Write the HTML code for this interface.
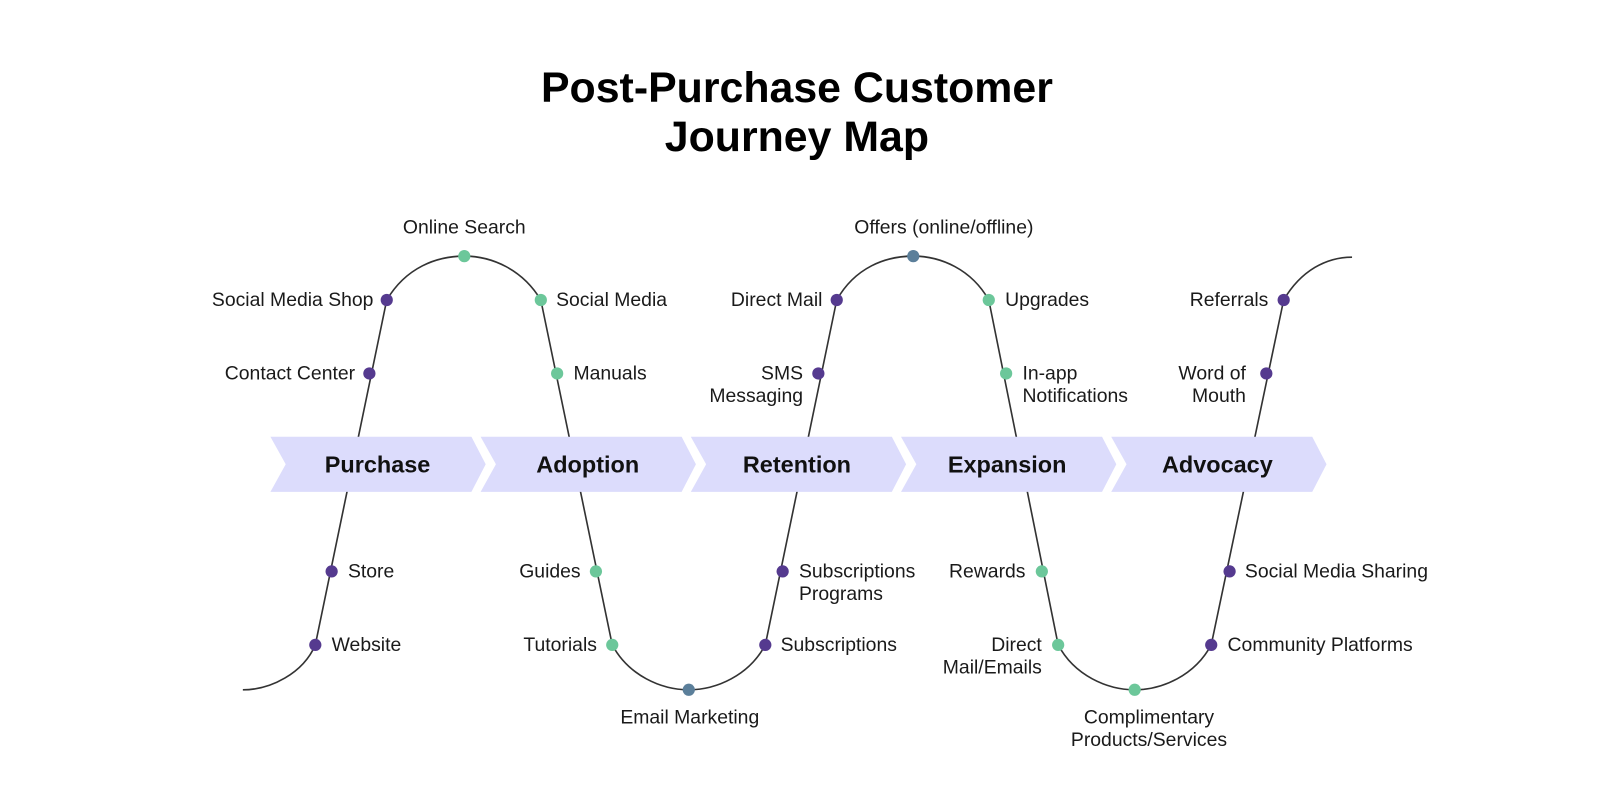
<!DOCTYPE html>
<html><head><meta charset="utf-8"><style>
html,body{margin:0;padding:0;background:#fff;}
svg{display:block;font-family:"Liberation Sans",sans-serif;}
.t{font-size:19px;fill:#1a1a1a;}
.h{font-size:42px;font-weight:bold;fill:#000;}
.c{font-size:23px;font-weight:bold;fill:#111;}
</style></head><body>
<svg width="1600" height="800" viewBox="0 0 1568 784">
<rect width="1568" height="784" fill="#fff"/>
<text class="h" x="781" y="100" text-anchor="middle">Post-Purchase Customer</text>
<text class="h" x="781" y="148" text-anchor="middle">Journey Map</text>
<path fill="none" stroke="#333" stroke-width="1.6" d="M238,676 C265,676 297,660 309,632 L379,294 C398,262 428,251 455,251 C482,251 512,264 530,294 L600,632 C616,662 648,676 675,676 C702,676 734,662 750,632 L820,294 C838,262 868,251 895,251 C922,251 952,264 969,294 L1037,632 C1053,662 1085,676 1112,676 C1139,676 1171,662 1187,632 L1258,294 C1275,265 1300,252 1325,252"/>
<g fill="#dcdcfc">
<polygon points="265,428 462,428 476,455 462,482 265,482 280,455"/>
<polygon points="471,428 668,428 682,455 668,482 471,482 486,455"/>
<polygon points="677,428 874,428 888,455 874,482 677,482 692,455"/>
<polygon points="883,428 1080,428 1094,455 1080,482 883,482 898,455"/>
<polygon points="1089,428 1286,428 1300,455 1286,482 1089,482 1104,455"/>
</g>
<text class="c" x="370" y="463" text-anchor="middle">Purchase</text>
<text class="c" x="576" y="463" text-anchor="middle">Adoption</text>
<text class="c" x="781" y="463" text-anchor="middle">Retention</text>
<text class="c" x="987" y="463" text-anchor="middle">Expansion</text>
<text class="c" x="1193" y="463" text-anchor="middle">Advocacy</text>
<g fill="#553a8f">
<circle cx="309" cy="632" r="6"/><circle cx="325" cy="560" r="6"/><circle cx="362" cy="366" r="6"/><circle cx="379" cy="294" r="6"/>
<circle cx="750" cy="632" r="6"/><circle cx="767" cy="560" r="6"/><circle cx="802" cy="366" r="6"/><circle cx="820" cy="294" r="6"/>
<circle cx="1187" cy="632" r="6"/><circle cx="1205" cy="560" r="6"/><circle cx="1241" cy="366" r="6"/><circle cx="1258" cy="294" r="6"/>
</g>
<g fill="#6cc79a">
<circle cx="455" cy="251" r="6"/><circle cx="530" cy="294" r="6"/><circle cx="546" cy="366" r="6"/><circle cx="584" cy="560" r="6"/><circle cx="600" cy="632" r="6"/>
<circle cx="969" cy="294" r="6"/><circle cx="986" cy="366" r="6"/><circle cx="1021" cy="560" r="6"/><circle cx="1037" cy="632" r="6"/><circle cx="1112" cy="676" r="6"/>
</g>
<circle cx="675" cy="676" r="6" fill="#5b7f9a"/>
<circle cx="895" cy="251" r="6" fill="#5b7f9a"/>
<g class="t">
<text x="455" y="229" text-anchor="middle">Online Search</text>
<text x="366" y="300" text-anchor="end">Social Media Shop</text>
<text x="348" y="372" text-anchor="end">Contact Center</text>
<text x="341" y="566">Store</text>
<text x="325" y="638">Website</text>
<text x="545" y="300">Social Media</text>
<text x="562" y="372">Manuals</text>
<text x="569" y="566" text-anchor="end">Guides</text>
<text x="585" y="638" text-anchor="end">Tutorials</text>
<text x="676" y="709" text-anchor="middle">Email Marketing</text>
<text x="765" y="638">Subscriptions</text>
<text x="783" y="566">Subscriptions</text>
<text x="783" y="588">Programs</text>
<text x="787" y="372" text-anchor="end">SMS</text>
<text x="787" y="394" text-anchor="end">Messaging</text>
<text x="806" y="300" text-anchor="end">Direct Mail</text>
<text x="925" y="229" text-anchor="middle">Offers (online/offline)</text>
<text x="985" y="300">Upgrades</text>
<text x="1002" y="372">In-app</text>
<text x="1002" y="394">Notifications</text>
<text x="1005" y="566" text-anchor="end">Rewards</text>
<text x="1021" y="638" text-anchor="end">Direct</text>
<text x="1021" y="660" text-anchor="end">Mail/Emails</text>
<text x="1126" y="709" text-anchor="middle">Complimentary</text>
<text x="1126" y="731" text-anchor="middle">Products/Services</text>
<text x="1203" y="638">Community Platforms</text>
<text x="1220" y="566">Social Media Sharing</text>
<text x="1221" y="372" text-anchor="end">Word of</text>
<text x="1221" y="394" text-anchor="end">Mouth</text>
<text x="1243" y="300" text-anchor="end">Referrals</text>
</g>
</svg>
</body></html>
